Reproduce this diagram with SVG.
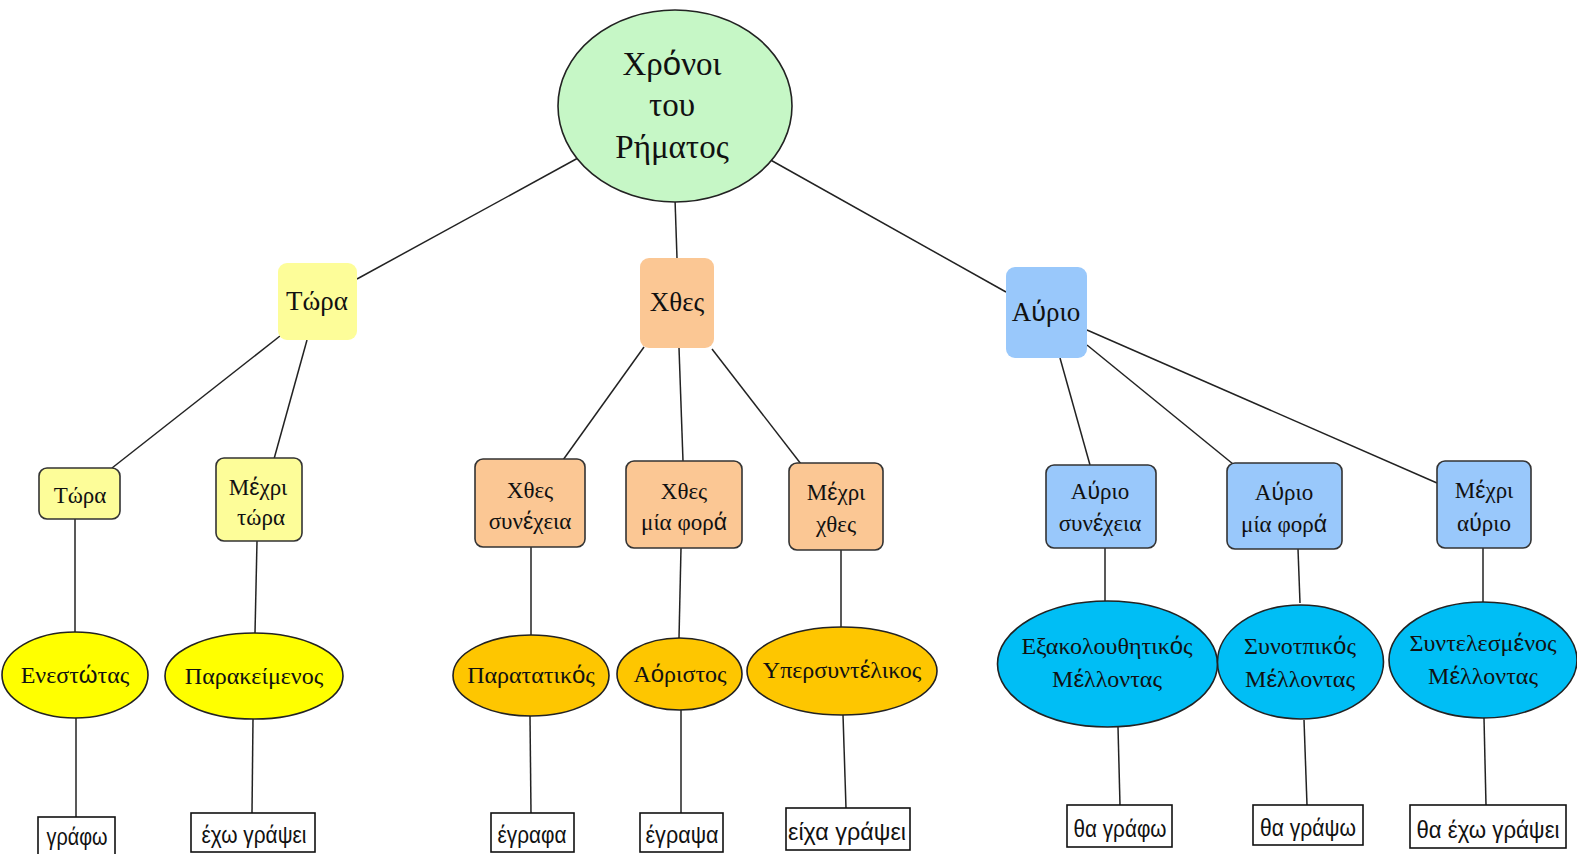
<svg xmlns="http://www.w3.org/2000/svg" width="1577" height="854" viewBox="0 0 1577 854">
<style>
.bg{fill:#ffffff}
.c line{stroke:#222;stroke-width:1.5;fill:none}
text{font-family:"Liberation Serif","Times New Roman",serif;fill:#111;text-anchor:middle}
.a{font-family:"Liberation Sans",Arial,sans-serif}
.l2{stroke:none}
.l3{stroke:#333;stroke-width:1.6}
.el{stroke:#222;stroke-width:1.6}
.leaf{fill:#fff;stroke:#111;stroke-width:1.6}
.lt{font-family:"Liberation Sans",Arial,sans-serif;font-size:23px}
.y1{fill:#fdfd99}.o1{fill:#fbc794}.b1{fill:#99c8fb}
.y2{fill:#ffff00}.o2{fill:#fec600}.b2{fill:#00bef5}
.t2{font-size:27px}.t3{font-size:23px}.te{font-size:24px}
</style>
<rect class="bg" x="0" y="0" width="1577" height="854"/>
<g class="c">
<line x1="578" y1="158" x2="357" y2="279"/>
<line x1="675" y1="199" x2="677" y2="258"/>
<line x1="767" y1="158" x2="1006" y2="292"/>
<line x1="280" y1="336" x2="112" y2="468"/>
<line x1="307" y1="340" x2="274" y2="459"/>
<line x1="644" y1="347" x2="563" y2="460"/>
<line x1="679" y1="348" x2="683" y2="461"/>
<line x1="712" y1="349" x2="801" y2="464"/>
<line x1="1060" y1="358" x2="1090" y2="465"/>
<line x1="1087" y1="345" x2="1233" y2="464"/>
<line x1="1087" y1="330" x2="1437" y2="483"/>
<line x1="75" y1="519" x2="75" y2="632"/>
<line x1="257" y1="541" x2="255" y2="633"/>
<line x1="531" y1="547" x2="531" y2="635"/>
<line x1="681" y1="548" x2="679" y2="638"/>
<line x1="841" y1="550" x2="841" y2="627"/>
<line x1="1105" y1="548" x2="1105" y2="601"/>
<line x1="1298" y1="549" x2="1300" y2="603"/>
<line x1="1483" y1="548" x2="1483" y2="602"/>
<line x1="76" y1="718" x2="76" y2="817"/>
<line x1="253" y1="719" x2="252" y2="813"/>
<line x1="530" y1="716" x2="531" y2="813"/>
<line x1="681" y1="710" x2="681" y2="813"/>
<line x1="843" y1="715" x2="846" y2="808"/>
<line x1="1118" y1="727" x2="1120" y2="805"/>
<line x1="1304" y1="720" x2="1307" y2="805"/>
<line x1="1484" y1="718" x2="1486" y2="805"/>
</g>
<g id="root">
<ellipse class="el" cx="675" cy="106" rx="117" ry="96" fill="#c6f7c6"/>
<text x="672" y="75" font-size="33">Χρ<tspan class="a">ό</tspan>νοι</text>
<text x="672" y="116" font-size="33">του</text>
<text x="672" y="158" font-size="33">Ρήματος</text>
</g>
<g id="n-tora">
<rect class="l2 y1" x="278" y="263" width="79" height="77" rx="9"/>
<text class="t2" x="317" y="310">Τώρα</text>
</g>
<g id="n-xthes">
<rect class="l2 o1" x="640" y="258" width="74" height="90" rx="9"/>
<text class="t2" x="677" y="311">Χθες</text>
</g>
<g id="n-avrio">
<rect class="l2 b1" x="1006" y="267" width="81" height="91" rx="9"/>
<text class="t2" x="1046" y="321">Α<tspan class="a">ύ</tspan>ριο</text>
</g>
<g id="n-tora2">
<rect class="l3 y1" x="39" y="468" width="81" height="51" rx="8"/>
<text class="t3" x="80" y="503">Τώρα</text>
</g>
<g id="n-mexri-tora">
<rect class="l3 y1" x="216" y="458" width="86" height="83" rx="8"/>
<text class="t3" x="258" y="495">Μ<tspan class="a">έ</tspan>χρι</text>
<text class="t3" x="261" y="525">τώρα</text>
</g>
<g id="n-xthes-syn">
<rect class="l3 o1" x="475" y="459" width="110" height="88" rx="8"/>
<text class="t3" x="530" y="498">Χθες</text>
<text class="t3" x="530" y="529">συν<tspan class="a">έ</tspan>χεια</text>
</g>
<g id="n-xthes-mia">
<rect class="l3 o1" x="626" y="461" width="116" height="87" rx="8"/>
<text class="t3" x="684" y="499">Χθες</text>
<text class="t3" x="684" y="530">μία φορ<tspan class="a">ά</tspan></text>
</g>
<g id="n-mexri-xthes">
<rect class="l3 o1" x="789" y="463" width="94" height="87" rx="8"/>
<text class="t3" x="836" y="500">Μ<tspan class="a">έ</tspan>χρι</text>
<text class="t3" x="836" y="532">χθες</text>
</g>
<g id="n-avrio-syn">
<rect class="l3 b1" x="1046" y="465" width="110" height="83" rx="8"/>
<text class="t3" x="1100" y="499">Α<tspan class="a">ύ</tspan>ριο</text>
<text class="t3" x="1100" y="531">συν<tspan class="a">έ</tspan>χεια</text>
</g>
<g id="n-avrio-mia">
<rect class="l3 b1" x="1227" y="463" width="115" height="86" rx="8"/>
<text class="t3" x="1284" y="500">Α<tspan class="a">ύ</tspan>ριο</text>
<text class="t3" x="1284" y="532">μία φορ<tspan class="a">ά</tspan></text>
</g>
<g id="n-mexri-avrio">
<rect class="l3 b1" x="1437" y="461" width="94" height="87" rx="8"/>
<text class="t3" x="1484" y="498">Μ<tspan class="a">έ</tspan>χρι</text>
<text class="t3" x="1484" y="531">α<tspan class="a">ύ</tspan>ριο</text>
</g>
<g id="e-enestotas">
<ellipse class="el y2" cx="75" cy="675" rx="73" ry="43"/>
<text class="te" x="75" y="683">Ενεστ<tspan class="a">ώ</tspan>τας</text>
</g>
<g id="e-parakeimenos">
<ellipse class="el y2" cx="254" cy="676" rx="89" ry="43"/>
<text class="te" x="254" y="684">Παρακείμενος</text>
</g>
<g id="e-paratatikos">
<ellipse class="el o2" cx="531" cy="675.5" rx="78" ry="40.5"/>
<text class="te" x="531" y="683">Παρατατικ<tspan class="a">ό</tspan>ς</text>
</g>
<g id="e-aoristos">
<ellipse class="el o2" cx="679.5" cy="674" rx="62.5" ry="36"/>
<text class="te" x="680" y="682">Α<tspan class="a">ό</tspan>ριστος</text>
</g>
<g id="e-ypersyntelikos">
<ellipse class="el o2" cx="842" cy="671" rx="95" ry="44"/>
<text class="te" x="842" y="678">Υπερσυντ<tspan class="a">έ</tspan>λικος</text>
</g>
<g id="e-exakolouthitikos">
<ellipse class="el b2" cx="1107.5" cy="664" rx="110" ry="63"/>
<text class="te" x="1107" y="654">Εξακολουθητικ<tspan class="a">ό</tspan>ς</text>
<text class="te" x="1107" y="687">Μ<tspan class="a">έ</tspan>λλοντας</text>
</g>
<g id="e-synoptikos">
<ellipse class="el b2" cx="1300.5" cy="662" rx="83" ry="57"/>
<text class="te" x="1300" y="654">Συνοτπικ<tspan class="a">ό</tspan>ς</text>
<text class="te" x="1300" y="687">Μ<tspan class="a">έ</tspan>λλοντας</text>
</g>
<g id="e-syntelesmenos">
<ellipse class="el b2" cx="1483" cy="660" rx="94" ry="58"/>
<text class="te" x="1483" y="651">Συντελεσμ<tspan class="a">έ</tspan>νος</text>
<text class="te" x="1483" y="684">Μ<tspan class="a">έ</tspan>λλοντας</text>
</g>
<g id="leaf-grafo">
<rect class="leaf" x="38" y="817" width="77" height="40"/>
<text class="lt" x="77" y="845" textLength="61" lengthAdjust="spacingAndGlyphs">γράφω</text>
</g>
<g id="leaf-exo-grapsei">
<rect class="leaf" x="191" y="813" width="124" height="39"/>
<text class="lt" x="254" y="843" textLength="105" lengthAdjust="spacingAndGlyphs">έχω γράψει</text>
</g>
<g id="leaf-egrafa">
<rect class="leaf" x="491" y="813" width="83" height="39"/>
<text class="lt" x="532" y="843" textLength="69" lengthAdjust="spacingAndGlyphs">έγραφα</text>
</g>
<g id="leaf-egrapsa">
<rect class="leaf" x="640" y="813" width="83" height="39"/>
<text class="lt" x="682" y="843" textLength="73" lengthAdjust="spacingAndGlyphs">έγραψα</text>
</g>
<g id="leaf-eixa-grapsei">
<rect class="leaf" x="786" y="808" width="124" height="42"/>
<text class="lt" x="847" y="840" textLength="118" lengthAdjust="spacingAndGlyphs">είχα γράψει</text>
</g>
<g id="leaf-tha-grafo">
<rect class="leaf" x="1067" y="805" width="105" height="42"/>
<text class="lt" x="1120" y="837" textLength="93" lengthAdjust="spacingAndGlyphs">θα γράφω</text>
</g>
<g id="leaf-tha-grapso">
<rect class="leaf" x="1253" y="805" width="110" height="40"/>
<text class="lt" x="1308" y="836" textLength="96" lengthAdjust="spacingAndGlyphs">θα γράψω</text>
</g>
<g id="leaf-tha-exo-grapsei">
<rect class="leaf" x="1410" y="805" width="156" height="43"/>
<text class="lt" x="1488" y="838" textLength="143" lengthAdjust="spacingAndGlyphs">θα έχω γράψει</text>
</g>
</svg>
